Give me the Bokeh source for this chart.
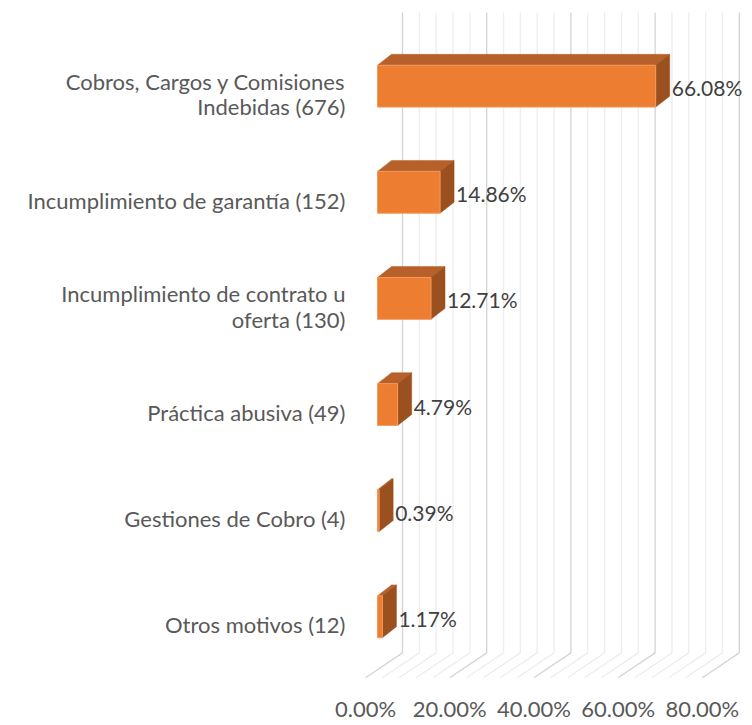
from bokeh.plotting import figure
from bokeh.models import FixedTicker, ColumnDataSource, Range1d
from bokeh.embed import file_html
from bokeh.resources import INLINE
from bokeh.core.properties import value

# ---------------- data ----------------
categories = [
    "Otros motivos (12)",
    "Gestiones de Cobro (4)",
    "Práctica abusiva (49)",
    "Incumplimiento de contrato u\noferta (130)",
    "Incumplimiento de garantía (152)",
    "Cobros, Cargos y Comisiones\nIndebidas (676)",
]
percentages = [1.17, 0.39, 4.79, 12.71, 14.86, 66.08]
pct_labels = ["1.17%", "0.39%", "4.79%", "12.71%", "14.86%", "66.08%"]
tick_values = [0, 20, 40, 60, 80]
tick_labels = ["0.00%", "20.00%", "40.00%", "60.00%", "80.00%"]
grid_step = 4
axis_max = 80

# ---------------- geometry (pixel scale of front plane) ----------------
PX_X = 4.21      # px per percent
PX_Y = 106.6     # px per category
DX = 37 / PX_X   # full depth offset (data units)
DY = 25 / PX_Y
FX, FY = 12 / PX_X, 8 / PX_Y        # bar front plane offset
BX, BY = 26 / PX_X, 19 / PX_Y       # bar back plane offset
H = 21 / PX_Y                        # bar half height
FLOOR = -0.5
WALL_TOP = 5.77

FONT = "Lato"
FS = "22px"

p = figure(width=744, height=724,
           x_range=Range1d(-2.375, 90.02), y_range=Range1d(-0.5066, 5.807),
           output_backend="svg", toolbar_location=None,
           min_border_left=355, min_border_right=0, min_border_top=8,
           min_border_bottom=43)
p.grid.visible = False
p.outline_line_color = None
p.background_fill_color = "white"

# ---------------- gridlines (wall + floor) ----------------
major_xs, major_ys, minor_xs, minor_ys = [], [], [], []
g = 0
while g <= axis_max:
    xs_w = [g + DX, g + DX]
    ys_w = [FLOOR + DY, WALL_TOP]
    xs_f = [g, g + DX]
    ys_f = [FLOOR, FLOOR + DY]
    if g % 20 == 0:
        major_xs += [xs_w, xs_f]
        major_ys += [ys_w, ys_f]
    else:
        minor_xs += [xs_w, xs_f]
        minor_ys += [ys_w, ys_f]
    g += grid_step
p.multi_line(minor_xs, minor_ys, line_color="#EDEDED", line_width=1.3)
p.multi_line(major_xs, major_ys, line_color="#D4D4D4", line_width=1.3)

# ---------------- bars ----------------
ks = list(range(len(categories)))
front = ColumnDataSource(dict(
    left=[FX for _ in ks],
    right=[v + FX for v in percentages],
    bottom=[k - H + FY for k in ks],
    top=[k + H + FY for k in ks],
))
top_xs, top_ys, side_xs, side_ys = [], [], [], []
for k, v in zip(ks, percentages):
    top_xs.append([FX, v + FX, v + BX, BX])
    top_ys.append([k + H + FY, k + H + FY, k + H + BY, k + H + BY])
    side_xs.append([v + FX, v + FX, v + BX, v + BX])
    side_ys.append([k - H + FY, k + H + FY, k + H + BY, k - H + BY])

p.patches(top_xs, top_ys, fill_color="#B8602A", line_color="#B8602A", line_width=0.5)
p.patches(side_xs, side_ys, fill_color="#9B501F", line_color="#9B501F", line_width=0.5)
p.quad(left="left", right="right", bottom="bottom", top="top", source=front,
       fill_color="#ED7D31", line_color="#F29A5C", line_width=1)

# ---------------- data labels ----------------
lab = ColumnDataSource(dict(
    x=[v + BX + 2 / PX_X for v in percentages],
    y=[k + 6.5 / PX_Y for k in ks],
    t=pct_labels,
))
p.text(x="x", y="y", text="t", source=lab, text_font=value(FONT),
       text_font_size="21px", text_color="#404040", text_baseline="middle",
       text_align="left")

# ---------------- axes ----------------
xa = p.xaxis[0]
xa.ticker = FixedTicker(ticks=tick_values)
xa.major_label_overrides = {t: l for t, l in zip(tick_values, tick_labels)}
xa.axis_line_color = None
xa.major_tick_line_color = None
xa.minor_tick_line_color = None
xa.major_label_standoff = 10
xa.major_label_text_font = FONT
xa.major_label_text_font_size = FS
xa.major_label_text_color = "#595959"

ya = p.yaxis[0]
ya.ticker = FixedTicker(ticks=ks)
ya.major_label_overrides = {k: c for k, c in zip(ks, categories)}
ya.axis_line_color = None
ya.major_tick_line_color = None
ya.minor_tick_line_color = None
ya.major_label_standoff = 4
ya.major_label_text_font = FONT
ya.major_label_text_font_size = FS
ya.major_label_text_line_height = 0.95
ya.major_label_text_color = "#595959"

open("out.html", "w").write(file_html(p, INLINE))
